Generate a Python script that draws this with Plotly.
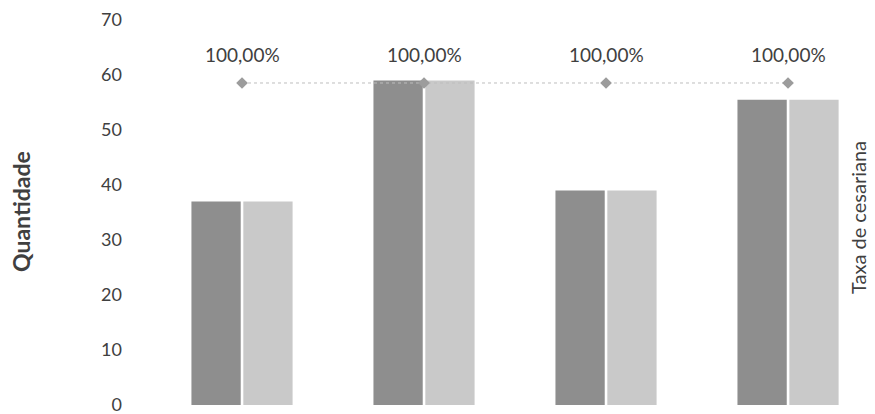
import plotly.graph_objects as go

categories = ["Grupo A", "Grupo B", "Grupo C", "Grupo D"]
serie_a = [37, 59, 39, 55.5]
serie_b = [37, 59, 39, 55.5]
taxa = [1.0, 1.0, 1.0, 1.0]
y_ticks = [0, 10, 20, 30, 40, 50, 60, 70]

font_family = "Lato"
W, H = 867, 406
ML, MR, MT, MB = 127, 30, 12, 9
PW, PH = W - ML - MR, H - MT - MB

fig = go.Figure()
fig.add_trace(go.Bar(x=categories, y=serie_a, name="A",
                     marker=dict(color="#8e8e8e", line=dict(width=0))))
fig.add_trace(go.Bar(x=categories, y=serie_b, name="B",
                     marker=dict(color="#c9c9c9", line=dict(width=0))))
fig.add_trace(go.Scatter(x=categories, y=taxa, yaxis="y2", mode="lines+markers",
                         name="Taxa",
                         line=dict(color="#bdbdbd", width=1, dash="dot"),
                         marker=dict(symbol="diamond", size=9, color="#9c9c9c")))

annotations = []
for c, t in zip(categories, taxa):
    annotations.append(dict(x=c, y=t, xref="x", yref="y2",
                            text=f"{t*100:.2f}%".replace(".", ","),
                            showarrow=False, yshift=28,
                            font=dict(family=font_family, size=19, color="#404040")))
annotations.append(dict(x=(13 - ML) / PW, y=(397 - 204) / PH, xref="paper", yref="paper",
                        text="<b>Quantidade</b>", textangle=-90, showarrow=False,
                        xanchor="center", yanchor="middle",
                        font=dict(family=font_family, size=23, color="#404040")))
annotations.append(dict(x=(850 - ML) / PW, y=(397 - 210) / PH, xref="paper", yref="paper",
                        text="Taxa de cesariana", textangle=-90, showarrow=False,
                        xanchor="center", yanchor="middle",
                        font=dict(family=font_family, size=20, color="#404040")))

fig.update_layout(
    width=W, height=H,
    margin=dict(l=ML, r=MR, t=MT, b=MB, autoexpand=False),
    paper_bgcolor="white", plot_bgcolor="white",
    barmode="group", bargap=0.43, bargroupgap=0.05,
    showlegend=False,
    font=dict(family=font_family, size=18, color="#404040"),
    xaxis=dict(type="category", range=[-0.588, 3.313], showticklabels=False,
               showgrid=False, zeroline=False, showline=False, ticks="",
               automargin=False),
    yaxis=dict(range=[0, 70], tickvals=y_ticks, showgrid=False, zeroline=False,
               showline=False, ticks="", ticklabelstandoff=12,
               automargin=False, ticklabeloverflow="allow",
               tickfont=dict(family=font_family, size=18, color="#404040")),
    yaxis2=dict(overlaying="y", side="right", range=[0, 1.1956],
                showticklabels=False, showgrid=False, zeroline=False,
                showline=False, ticks="", automargin=False),
    annotations=annotations,
)

fig.write_html("out.html")
